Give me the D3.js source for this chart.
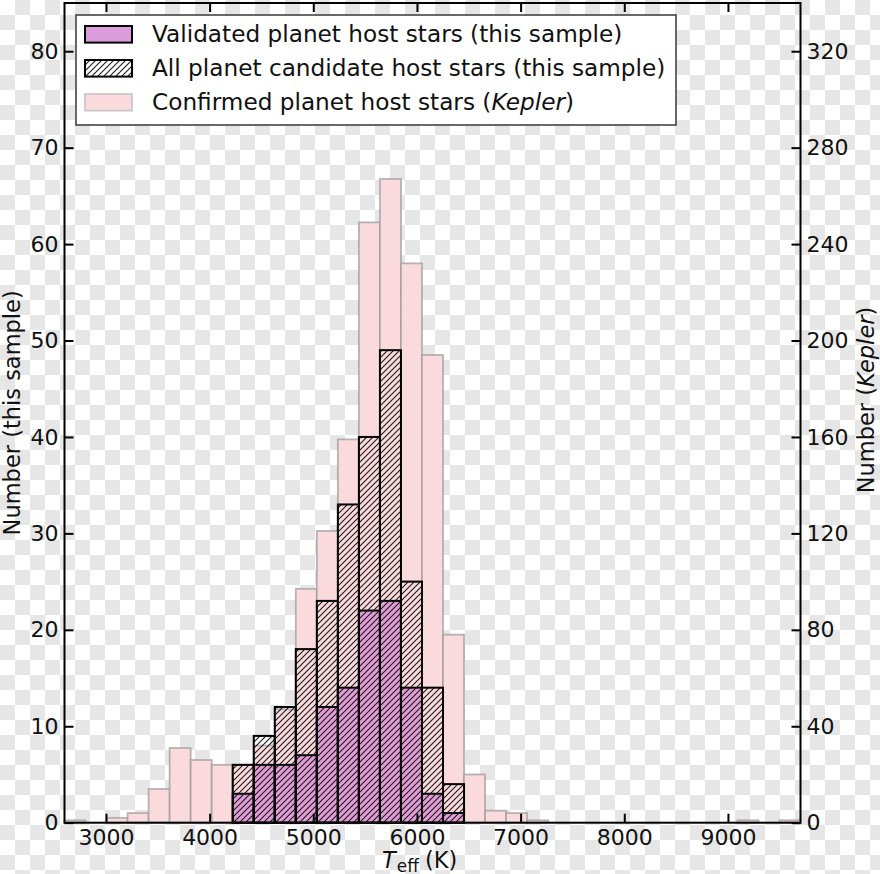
<!DOCTYPE html>
<html>
<head>
<meta charset="utf-8">
<script src="https://cdn.jsdelivr.net/npm/d3@7"></script>
<style>
  html, body { margin: 0; padding: 0; background: #fff; }
  svg { display: block; }
</style>
</head>
<body>
<svg id="chart" width="880" height="874"></svg>
<script>
// ---------------- data ----------------
// lower edges of the 35 histogram bins (K); bins are ~202.9 K wide, last edge 9700
const binLower = [2600, 2802.9, 3005.7, 3208.6, 3411.4, 3614.3, 3817.1, 4020.0, 4222.9, 4425.7,
  4628.6, 4831.4, 5034.3, 5237.1, 5440.0, 5642.9, 5845.7, 6048.6, 6251.4, 6454.3,
  6657.1, 6860.0, 7062.9, 7265.7, 7468.6, 7671.4, 7874.3, 8077.1, 8280.0, 8482.9,
  8685.7, 8888.6, 9091.4, 9294.3, 9497.1];
const binUpperLast = 9700;
// Confirmed planet host stars (Kepler) — right axis
const keplerCounts = [1, 0, 2, 4, 14, 31, 26, 24, 24, 32,
  47, 97, 121, 159, 249, 267, 232, 194, 78, 20,
  5, 4, 1, 0, 0, 0, 0, 0, 0, 0,
  0, 0, 1, 0, 1];
// All planet candidate host stars (this sample) — left axis
const candidateCounts = [0, 0, 0, 0, 0, 0, 0, 0, 6, 9,
  12, 18, 23, 33, 40, 49, 25, 14, 4, 0,
  0, 0, 0, 0, 0, 0, 0, 0, 0, 0,
  0, 0, 0, 0, 0];
// Validated planet host stars (this sample) — left axis
const validatedCounts = [0, 0, 0, 0, 0, 0, 0, 0, 3, 6,
  6, 7, 12, 14, 22, 23, 14, 3, 1, 0,
  0, 0, 0, 0, 0, 0, 0, 0, 0, 0,
  0, 0, 0, 0, 0];
const xTicks = [3000, 4000, 5000, 6000, 7000, 8000, 9000];
const yLeftTicks = [0, 10, 20, 30, 40, 50, 60, 70, 80];
const yRightTicks = [0, 40, 80, 120, 160, 200, 240, 280, 320];
const xDomain = [2600, 9700];
const yLeftDomain = [0, 85];
const yRightDomain = [0, 340];

// ---------------- layout ----------------
const X0 = 64.5, X1 = 800.5, Y0 = 3, Y1 = 822.7;
const FONT = "DejaVu Sans";
const svg = d3.select("#chart");

// checkerboard background (transparent-PNG look)
const defs = svg.append("defs");
const chk = defs.append("pattern").attr("id", "checker")
  .attr("patternUnits", "userSpaceOnUse").attr("width", 30).attr("height", 30);
chk.append("rect").attr("width", 30).attr("height", 30).attr("fill", "#ffffff");
chk.append("rect").attr("x", 15).attr("y", 0).attr("width", 15).attr("height", 15).attr("fill", "#e6e6e6");
chk.append("rect").attr("x", 0).attr("y", 15).attr("width", 15).attr("height", 15).attr("fill", "#e6e6e6");

const hatch = defs.append("pattern").attr("id", "hatch")
  .attr("patternUnits", "userSpaceOnUse").attr("width", 6).attr("height", 6);
hatch.append("path").attr("d", "M-1,1 l2,-2 M0,6 l6,-6 M5,7 l2,-2")
  .attr("stroke", "#1a1a1a").attr("stroke-width", 1.1).attr("fill", "none");

svg.append("rect").attr("width", 880).attr("height", 874).attr("fill", "url(#checker)");

// ---------------- scales ----------------
const x = d3.scaleLinear().domain(xDomain).range([X0, X1]);
const yL = d3.scaleLinear().domain(yLeftDomain).range([Y1, Y0]);
const yR = d3.scaleLinear().domain(yRightDomain).range([Y1, Y0]);

const bins = binLower.map((lo, i) => ({
  lo, hi: i < binLower.length - 1 ? binLower[i + 1] : binUpperLast,
  kep: keplerCounts[i], cand: candidateCounts[i], val: validatedCounts[i]
}));

// Kepler (pink) bars
svg.append("g").selectAll("rect").data(bins.filter(d => d.kep > 0)).join("rect")
  .attr("x", d => x(d.lo)).attr("width", d => x(d.hi) - x(d.lo))
  .attr("y", d => yR(d.kep)).attr("height", d => yR(0) - yR(d.kep))
  .attr("fill", "#fadadc").attr("stroke", "#9d9d9d").attr("stroke-opacity", 0.75)
  .attr("stroke-width", 1.8);

// validated (plum) bars
svg.append("g").selectAll("rect").data(bins.filter(d => d.val > 0)).join("rect")
  .attr("x", d => x(d.lo)).attr("width", d => x(d.hi) - x(d.lo))
  .attr("y", d => yL(d.val)).attr("height", d => yL(0) - yL(d.val))
  .attr("fill", "#e29cd6").attr("stroke", "#000").attr("stroke-width", 2);

// candidate (hatched) bars
svg.append("g").selectAll("rect").data(bins.filter(d => d.cand > 0)).join("rect")
  .attr("x", d => x(d.lo)).attr("width", d => x(d.hi) - x(d.lo))
  .attr("y", d => yL(d.cand)).attr("height", d => yL(0) - yL(d.cand))
  .attr("fill", "url(#hatch)").attr("stroke", "#000").attr("stroke-width", 2);

// ---------------- axes ----------------
function styleAxis(g) {
  g.attr("font-family", FONT).attr("font-size", 22);
  g.selectAll(".tick line").attr("stroke", "#000").attr("stroke-width", 2);
  g.selectAll(".tick text").attr("fill", "#111");
  g.select(".domain").remove();
}
svg.append("g").attr("transform", `translate(0,${Y1})`)
  .call(d3.axisBottom(x).tickValues(xTicks).tickSize(-9).tickPadding(7).tickFormat(d3.format("d")))
  .call(styleAxis);
svg.append("g").attr("transform", `translate(0,${Y0})`)
  .call(d3.axisTop(x).tickValues(xTicks).tickSize(-9).tickFormat(""))
  .call(styleAxis);
svg.append("g").attr("transform", `translate(${X0},0)`)
  .call(d3.axisLeft(yL).tickValues(yLeftTicks).tickSize(-9).tickPadding(6))
  .call(styleAxis);
svg.append("g").attr("transform", `translate(${X1},0)`)
  .call(d3.axisRight(yR).tickValues(yRightTicks).tickSize(-9).tickPadding(6))
  .call(styleAxis);

// frame
svg.append("rect").attr("x", X0).attr("y", Y0).attr("width", X1 - X0).attr("height", Y1 - Y0)
  .attr("fill", "none").attr("stroke", "#000").attr("stroke-width", 2);

// axis labels
const xl = svg.append("text").attr("x", 382).attr("y", 867.5)
  .attr("text-anchor", "start").attr("font-family", FONT).attr("font-size", 22.5).attr("fill", "#111");
xl.append("tspan").attr("font-style", "italic").text("T");
xl.append("tspan").attr("font-size", 17).attr("dx", 1).attr("dy", 4).text("eff");
xl.append("tspan").attr("dx", 6).attr("dy", -4).text("(K)");

svg.append("text").attr("transform", `translate(20,${(Y0 + Y1) / 2}) rotate(-90)`)
  .attr("text-anchor", "middle").attr("font-family", FONT).attr("font-size", 22.5).attr("fill", "#111")
  .text("Number (this sample)");
const yr = svg.append("text").attr("transform", `translate(874,400) rotate(-90)`)
  .attr("text-anchor", "middle").attr("font-family", FONT).attr("font-size", 22.5).attr("fill", "#111");
yr.append("tspan").text("Number (");
yr.append("tspan").attr("font-style", "italic").text("Kepler");
yr.append("tspan").text(")");

// ---------------- legend ----------------
const leg = svg.append("g");
leg.append("rect").attr("x", 76).attr("y", 15).attr("width", 600).attr("height", 110)
  .attr("fill", "#fff").attr("stroke", "#444").attr("stroke-width", 1.6);
const legendItems = [
  { label: ["Validated planet host stars (this sample)"], fill: "#dd9cdc", stroke: "#000", sw: 2 },
  { label: ["All planet candidate host stars (this sample)"], fill: "url(#hatch)", stroke: "#000", sw: 2 },
  { label: ["Confirmed planet host stars (", "Kepler", ")"], fill: "#fadadc", stroke: "#c8c8c8", sw: 1.8 }
];
legendItems.forEach((it, i) => {
  const cy = 34.3 + i * 34;
  leg.append("rect").attr("x", 85).attr("y", cy - 8.3).attr("width", 47).attr("height", 16.6)
    .attr("fill", it.fill).attr("stroke", it.stroke).attr("stroke-width", it.sw);
  const t = leg.append("text").attr("x", 152).attr("y", cy + 8)
    .attr("font-family", FONT).attr("font-size", 23.2).attr("fill", "#111");
  it.label.forEach((s, j) => {
    const ts = t.append("tspan").text(s);
    if (j === 1) ts.attr("font-style", "italic");
  });
});
</script>
</body>
</html>
